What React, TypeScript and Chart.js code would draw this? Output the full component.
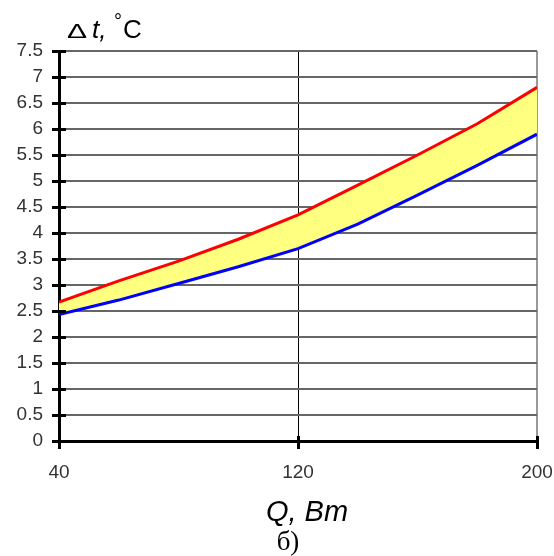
import React, { useEffect, useRef } from "react";
import { Chart, registerables } from "chart.js";

Chart.register(...registerables);

// ---- data ----
const xValues = [40, 60, 80, 100, 120, 140, 160, 180, 200];
const upperValues = [2.67, 3.08, 3.46, 3.88, 4.35, 4.92, 5.5, 6.1, 6.8];
const lowerValues = [2.43, 2.71, 3.03, 3.35, 3.7, 4.17, 4.73, 5.3, 5.9];
const xMin = 40;
const xMax = 200;
const xStep = 80;
const yMin = 0;
const yMax = 7.5;
const yStep = 0.5;
const xTitle = "Q, Bm";
const caption = "б)";

const FONT = "'Liberation Sans', Arial, sans-serif";

const decorPlugin = {
  id: "decor",
  afterDraw(chart: any) {
    const { ctx, chartArea, scales } = chart;
    const x = scales.x;
    const y = scales.y;
    ctx.save();
    ctx.strokeStyle = "#000";
    ctx.lineWidth = 3;
    y.ticks.forEach((t: any) => {
      const py = Math.round(y.getPixelForValue(t.value)) + 0.5;
      ctx.beginPath();
      ctx.moveTo(chartArea.left - 7, py);
      ctx.lineTo(chartArea.left + 7, py);
      ctx.stroke();
    });
    x.ticks.forEach((t: any) => {
      const px = Math.round(x.getPixelForValue(t.value)) + 0.5;
      ctx.beginPath();
      ctx.moveTo(px, chartArea.bottom - 5);
      ctx.lineTo(px, chartArea.bottom + 8);
      ctx.stroke();
    });

    // y-axis title: Δ t,°C
    ctx.fillStyle = "#000";
    ctx.textBaseline = "alphabetic";
    ctx.textAlign = "left";
    ctx.save();
    ctx.translate(67, 38);
    ctx.scale(1.5, 1);
    ctx.font = `20px ${FONT}`;
    ctx.fillText("Δ", 0, 0);
    ctx.restore();
    ctx.font = `italic 26px ${FONT}`;
    ctx.fillText("t,", 92, 38);
    ctx.font = `20px ${FONT}`;
    ctx.fillText("°", 114, 28);
    ctx.font = `26px ${FONT}`;
    ctx.fillText("C", 123, 38);

    // x-axis title
    ctx.textAlign = "center";
    ctx.font = `italic 29px ${FONT}`;
    ctx.fillText(xTitle, 307, 521);

    // caption
    ctx.font = `27px 'Liberation Serif', 'Times New Roman', serif`;
    ctx.fillText(caption, 288, 550);
    ctx.restore();
  },
};

export default function App() {
  const ref = useRef<HTMLCanvasElement | null>(null);

  useEffect(() => {
    if (!ref.current) return;
    const chart = new Chart(ref.current, {
      type: "line",
      data: {
        datasets: [
          {
            label: "upper",
            data: xValues.map((v, i) => ({ x: v, y: upperValues[i] })),
            borderColor: "#ff0000",
            backgroundColor: "#ffff80",
            borderWidth: 3,
            pointRadius: 0,
            tension: 0,
            fill: "+1",
          },
          {
            label: "lower",
            data: xValues.map((v, i) => ({ x: v, y: lowerValues[i] })),
            borderColor: "#0000ff",
            backgroundColor: "#0000ff",
            borderWidth: 3,
            pointRadius: 0,
            tension: 0,
            fill: false,
          },
        ],
      },
      options: {
        animation: false,
        responsive: false,
        layout: { padding: { top: 51, right: 17, left: 0, bottom: 0 } },
        plugins: {
          legend: { display: false },
          tooltip: { enabled: false },
          filler: { drawTime: "beforeDatasetsDraw" },
        },
        scales: {
          x: {
            type: "linear",
            min: xMin,
            max: xMax,
            afterFit: (s: any) => {
              s.height = 115;
              s.paddingLeft = 0;
              s.paddingRight = 0;
            },
            ticks: {
              stepSize: xStep,
              color: "#333",
              font: { family: FONT, size: 19 },
              padding: 20,
              maxRotation: 0,
            },
            grid: {
              drawTicks: false,
              color: (c: any) =>
                c.tick && c.tick.value === xMax
                  ? "#999"
                  : c.tick && c.tick.value === xMin
                  ? "rgba(0,0,0,0)"
                  : "#000",
              lineWidth: (c: any) => (c.tick && c.tick.value === xMax ? 2 : 1),
            },
            border: { color: "#000", width: 3 },
          },
          y: {
            min: yMin,
            max: yMax,
            afterFit: (s: any) => {
              s.width = 59;
              s.paddingTop = 0;
              s.paddingBottom = 0;
            },
            ticks: {
              stepSize: yStep,
              color: "#333",
              font: { family: FONT, size: 19 },
              padding: 16,
              callback: (v: any) => String(v),
            },
            grid: {
              drawTicks: false,
              color: "#666",
              lineWidth: 2,
            },
            border: { color: "#000", width: 3 },
          },
        },
      },
      plugins: [decorPlugin],
    });
    return () => chart.destroy();
  }, []);

  return (
    <div style={{ position: "absolute", left: 0, top: 0, width: 554, height: 556, background: "#fff" }}>
      <canvas ref={ref} width={554} height={556} style={{ width: 554, height: 556, display: "block" }} />
    </div>
  );
}
